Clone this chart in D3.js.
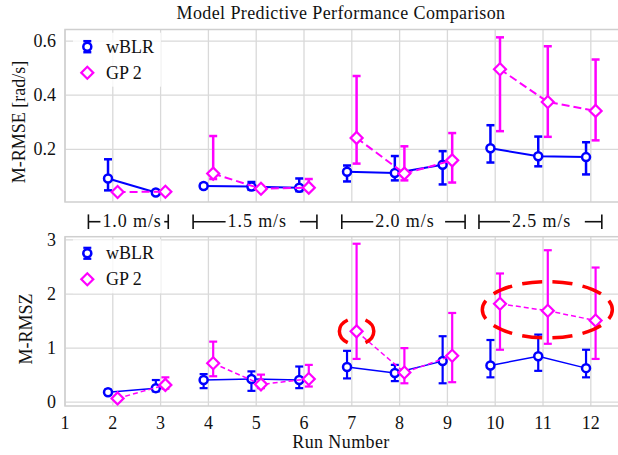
<!DOCTYPE html>
<html lang="en">
<head>
<meta charset="UTF-8">
<title>Model Predictive Performance Comparison</title>
<script src="https://cdn.jsdelivr.net/npm/d3@7"></script>
<style>
  body { margin: 0; background: #ffffff; }
  svg { display: block; font-family: "Liberation Serif", "Times New Roman", serif; }
  .grid line { stroke: #d9d9d9; stroke-width: 1.3; }
  .frame { fill: none; stroke: #cfcfcf; stroke-width: 1.5; }
  .tick { font-size: 18px; fill: #111; }
  .label { font-size: 18px; fill: #111; }
  .title { font-size: 18px; fill: #111; letter-spacing: 0.4px; }
  .legend text { font-size: 18px; fill: #111; }
  .bracket line { stroke: #111; stroke-width: 1.6; }
  .bracket text { font-size: 18px; fill: #111; letter-spacing: 0.9px; }
</style>
</head>
<body>
<script>

var runs = [2, 3, 4, 5, 6, 7, 8, 9, 10, 11, 12];
var runTicks = [1, 2, 3, 4, 5, 6, 7, 8, 9, 10, 11, 12];
var runGroups = [[2, 3], [4, 5, 6], [7, 8, 9], [10, 11, 12]];
var speedLabels = ['1.0 m/s', '1.5 m/s', '2.0 m/s', '2.5 m/s'];
var speedStart = [1.49, 3.68, 6.79, 9.66];
var speedEnd = [3.16, 6.27, 9.37, 12.23];

// M-RMSE [rad/s]
var rmseBlr   = [0.092, 0.040, 0.064, 0.062, 0.058, 0.117, 0.112, 0.143, 0.204, 0.174, 0.171];
var rmseBlrLo = [0.048, 0.035, 0.056, 0.050, 0.045, 0.081, 0.085, 0.070, 0.151, 0.137, 0.107];
var rmseBlrHi = [0.163, 0.046, 0.072, 0.079, 0.092, 0.140, 0.175, 0.193, 0.289, 0.247, 0.226];
var rmseGp    = [0.042, 0.043, 0.110, 0.054, 0.058, 0.242, 0.110, 0.159, 0.496, 0.375, 0.342];
var rmseGpLo  = [0.038, 0.039, 0.090, 0.048, 0.050, 0.147, 0.085, 0.077, 0.267, 0.246, 0.233];
var rmseGpHi  = [0.047, 0.048, 0.249, 0.060, 0.090, 0.471, 0.211, 0.260, 0.614, 0.581, 0.532];

// M-RMSZ
var rmszBlr   = [0.185, 0.26, 0.41, 0.43, 0.41, 0.65, 0.54, 0.76, 0.68, 0.85, 0.63];
var rmszBlrLo = [0.14, 0.20, 0.26, 0.21, 0.26, 0.44, 0.39, 0.35, 0.46, 0.58, 0.46];
var rmszBlrHi = [0.23, 0.41, 0.52, 0.57, 0.66, 0.95, 0.69, 1.22, 1.15, 1.25, 0.97];
var rmszGp    = [0.07, 0.32, 0.72, 0.33, 0.43, 1.31, 0.55, 0.86, 1.82, 1.69, 1.51];
var rmszGpLo  = [0.04, 0.25, 0.48, 0.26, 0.29, 0.80, 0.35, 0.37, 0.97, 1.08, 0.80];
var rmszGpHi  = [0.10, 0.46, 1.12, 0.51, 0.69, 2.93, 1.00, 1.65, 2.38, 2.81, 2.49];

// highlighted regions on the M-RMSZ panel (data units)
var highlightCx = [7.1, 11.09];
var highlightCy = [1.31, 1.71];
var highlightRx = [0.36, 1.36];
var highlightRy = [0.245, 0.52];
var highlightDashes = [2, 10];

var width = 618, height = 455;

var svg = d3.select('body').append('svg')
  .attr('width', width)
  .attr('height', height);

var x = d3.scaleLinear().domain([1, 12.6]).range([65, 619.5]);

var blue = '#0000ff', magenta = '#ff00ff', red = '#ff0000';

var panels = [
  {
    title: 'M-RMSE [rad/s]', ticks: [0.2, 0.4, 0.6], fmt: d3.format('.1f'),
    y: d3.scaleLinear().domain([0.005, 0.643]).range([202, 29.5]),
    labelPos: [24.5, 122], legendY: 46.7, lw: 2, dash: '8,4', err: 2.5,
    blr: [rmseBlr, rmseBlrLo, rmseBlrHi], gp: [rmseGp, rmseGpLo, rmseGpHi]
  },
  {
    title: 'M-RMSZ', ticks: [0, 1, 2, 3], fmt: d3.format('d'),
    y: d3.scaleLinear().domain([-0.07, 3.06]).range([406, 236.7]),
    labelPos: [31.5, 329], legendY: 253.3, lw: 1.5, dash: '5,3', err: 2.2,
    blr: [rmszBlr, rmszBlrLo, rmszBlrHi], gp: [rmszGp, rmszGpLo, rmszGpHi]
  }
];

var diamond = d3.symbol().type(d3.symbolSquare).size(72);

function drawSeries(g, p, vals, color, offset, marker, dashed) {
  var y = p.y;
  var pts = runs.map(function(r, i) {
    return {run: r, x: r + offset, v: vals[0][i], lo: vals[1][i], hi: vals[2][i]};
  });
  var line = d3.line()
    .x(function(d) { return x(d.x); })
    .y(function(d) { return y(d.v); });

  runGroups.forEach(function(grp) {
    var seg = pts.filter(function(d) { return grp.indexOf(d.run) >= 0; });
    g.append('path')
      .attr('d', line(seg))
      .attr('fill', 'none')
      .attr('stroke', color)
      .attr('stroke-width', p.lw)
      .attr('stroke-dasharray', dashed ? p.dash : null);
  });

  var eb = g.selectAll(null).data(pts).enter().append('g')
    .attr('stroke', color)
    .attr('stroke-width', p.err);
  eb.append('line')
    .attr('x1', function(d) { return x(d.x); })
    .attr('x2', function(d) { return x(d.x); })
    .attr('y1', function(d) { return y(d.lo); })
    .attr('y2', function(d) { return y(d.hi); });
  eb.append('line')
    .attr('x1', function(d) { return x(d.x) - 4; })
    .attr('x2', function(d) { return x(d.x) + 4; })
    .attr('y1', function(d) { return y(d.lo); })
    .attr('y2', function(d) { return y(d.lo); });
  eb.append('line')
    .attr('x1', function(d) { return x(d.x) - 4; })
    .attr('x2', function(d) { return x(d.x) + 4; })
    .attr('y1', function(d) { return y(d.hi); })
    .attr('y2', function(d) { return y(d.hi); });

  if (marker === 'circle') {
    g.selectAll(null).data(pts).enter().append('circle')
      .attr('cx', function(d) { return x(d.x); })
      .attr('cy', function(d) { return y(d.v); })
      .attr('r', 4)
      .attr('fill', '#fff')
      .attr('stroke', color)
      .attr('stroke-width', 2.5);
  } else {
    g.selectAll(null).data(pts).enter().append('path')
      .attr('d', diamond)
      .attr('transform', function(d) {
        return 'translate(' + x(d.x) + ',' + y(d.v) + ') rotate(45)';
      })
      .attr('fill', '#fff')
      .attr('stroke', color)
      .attr('stroke-width', 2.2);
  }
}

panels.forEach(function(p, pi) {
  var y = p.y;
  var top = y.range()[1], bottom = y.range()[0];
  var g = svg.append('g');

  var grid = g.append('g').attr('class', 'grid');
  grid.selectAll(null).data(runTicks).enter().append('line')
    .attr('x1', function(d) { return x(d); })
    .attr('x2', function(d) { return x(d); })
    .attr('y1', top)
    .attr('y2', bottom);
  grid.selectAll(null).data(p.ticks).enter().append('line')
    .attr('x1', x.range()[0])
    .attr('x2', width + 5)
    .attr('y1', function(d) { return y(d); })
    .attr('y2', function(d) { return y(d); });

  g.append('rect')
    .attr('class', 'frame')
    .attr('x', x.range()[0])
    .attr('y', top)
    .attr('width', width + 10 - x.range()[0])
    .attr('height', bottom - top);

  g.selectAll(null).data(p.ticks).enter().append('text')
    .attr('class', 'tick')
    .attr('x', 56)
    .attr('y', function(d) { return y(d); })
    .attr('dy', '0.33em')
    .attr('text-anchor', 'end')
    .text(p.fmt);

  g.append('text')
    .attr('class', 'label')
    .attr('transform', 'translate(' + p.labelPos[0] + ',' + p.labelPos[1] + ') rotate(-90)')
    .attr('text-anchor', 'middle')
    .text(p.title);

  drawSeries(g, p, p.blr, blue, -0.1, 'circle', false);
  drawSeries(g, p, p.gp, magenta, 0.1, 'diamond', true);

  // legend
  var lg = g.append('g').attr('class', 'legend');
  lg.append('rect')
    .attr('x', 73).attr('y', p.legendY - 14)
    .attr('width', 88).attr('height', 54)
    .attr('fill', '#fff').attr('fill-opacity', 0.8);
  var ly = p.legendY, lx = 87.3;
  lg.append('line')
    .attr('x1', lx).attr('x2', lx).attr('y1', ly - 5.5).attr('y2', ly + 5.5)
    .attr('stroke', blue).attr('stroke-width', p.err);
  [ly - 5.5, ly + 5.5].forEach(function(cy) {
    lg.append('line')
      .attr('x1', lx - 4).attr('x2', lx + 4).attr('y1', cy).attr('y2', cy)
      .attr('stroke', blue).attr('stroke-width', p.err);
  });
  lg.append('circle')
    .attr('cx', lx).attr('cy', ly).attr('r', 4)
    .attr('fill', '#fff').attr('stroke', blue).attr('stroke-width', 2.5);
  lg.append('text').attr('x', 106).attr('y', ly + 6).text('wBLR');
  lg.append('path')
    .attr('d', diamond)
    .attr('transform', 'translate(' + lx + ',' + (ly + 26) + ') rotate(45)')
    .attr('fill', '#fff').attr('stroke', magenta).attr('stroke-width', 2.2);
  lg.append('text').attr('x', 106).attr('y', ly + 32).text('GP 2');

  if (pi === 1) {
    g.selectAll(null).data(runTicks).enter().append('text')
      .attr('class', 'tick')
      .attr('x', function(d) { return x(d); })
      .attr('y', 429)
      .attr('text-anchor', 'middle')
      .text(function(d) { return d; });

    g.append('text')
      .attr('class', 'label')
      .attr('x', 341)
      .attr('y', 448)
      .attr('text-anchor', 'middle')
      .style('letter-spacing', '0.4px')
      .text('Run Number');

    highlightCx.forEach(function(cx, i) {
      var el = g.append('ellipse')
        .attr('cx', x(cx))
        .attr('cy', y(highlightCy[i]))
        .attr('rx', x(cx + highlightRx[i]) - x(cx))
        .attr('ry', y(highlightCy[i]) - y(highlightCy[i] + highlightRy[i]))
        .attr('fill', 'none')
        .attr('stroke', red)
        .attr('stroke-width', 3.5);
      var period = el.node().getTotalLength() / highlightDashes[i];
      var on = period * (i === 0 ? 0.62 : 0.66);
      el.attr('stroke-dasharray', on + ',' + (period - on))
        .attr('stroke-dashoffset', on / 2);
    });
  }
});

// title
svg.append('text')
  .attr('class', 'title')
  .attr('x', 341)
  .attr('y', 19)
  .attr('text-anchor', 'middle')
  .text('Model Predictive Performance Comparison');

// speed brackets between the panels
var leadLen = [12, 32.5, 31.5, 31];
var tailLen = [4, 17, 20, 17];
var by = 221.7;
var br = svg.append('g').attr('class', 'bracket');
speedLabels.forEach(function(lab, i) {
  var x0 = x(speedStart[i]), x1 = x(speedEnd[i]);
  br.append('line').attr('x1', x0).attr('x2', x0).attr('y1', by - 7.3).attr('y2', by + 7.3);
  br.append('line').attr('x1', x0).attr('x2', x0 + leadLen[i]).attr('y1', by).attr('y2', by);
  br.append('line').attr('x1', x1).attr('x2', x1).attr('y1', by - 7.3).attr('y2', by + 7.3);
  br.append('line').attr('x1', x1 - tailLen[i]).attr('x2', x1).attr('y1', by).attr('y2', by);
  br.append('text')
    .attr('x', x0 + leadLen[i] + 2)
    .attr('y', by + 4.8)
    .text(lab);
});

</script>
</body>
</html>
